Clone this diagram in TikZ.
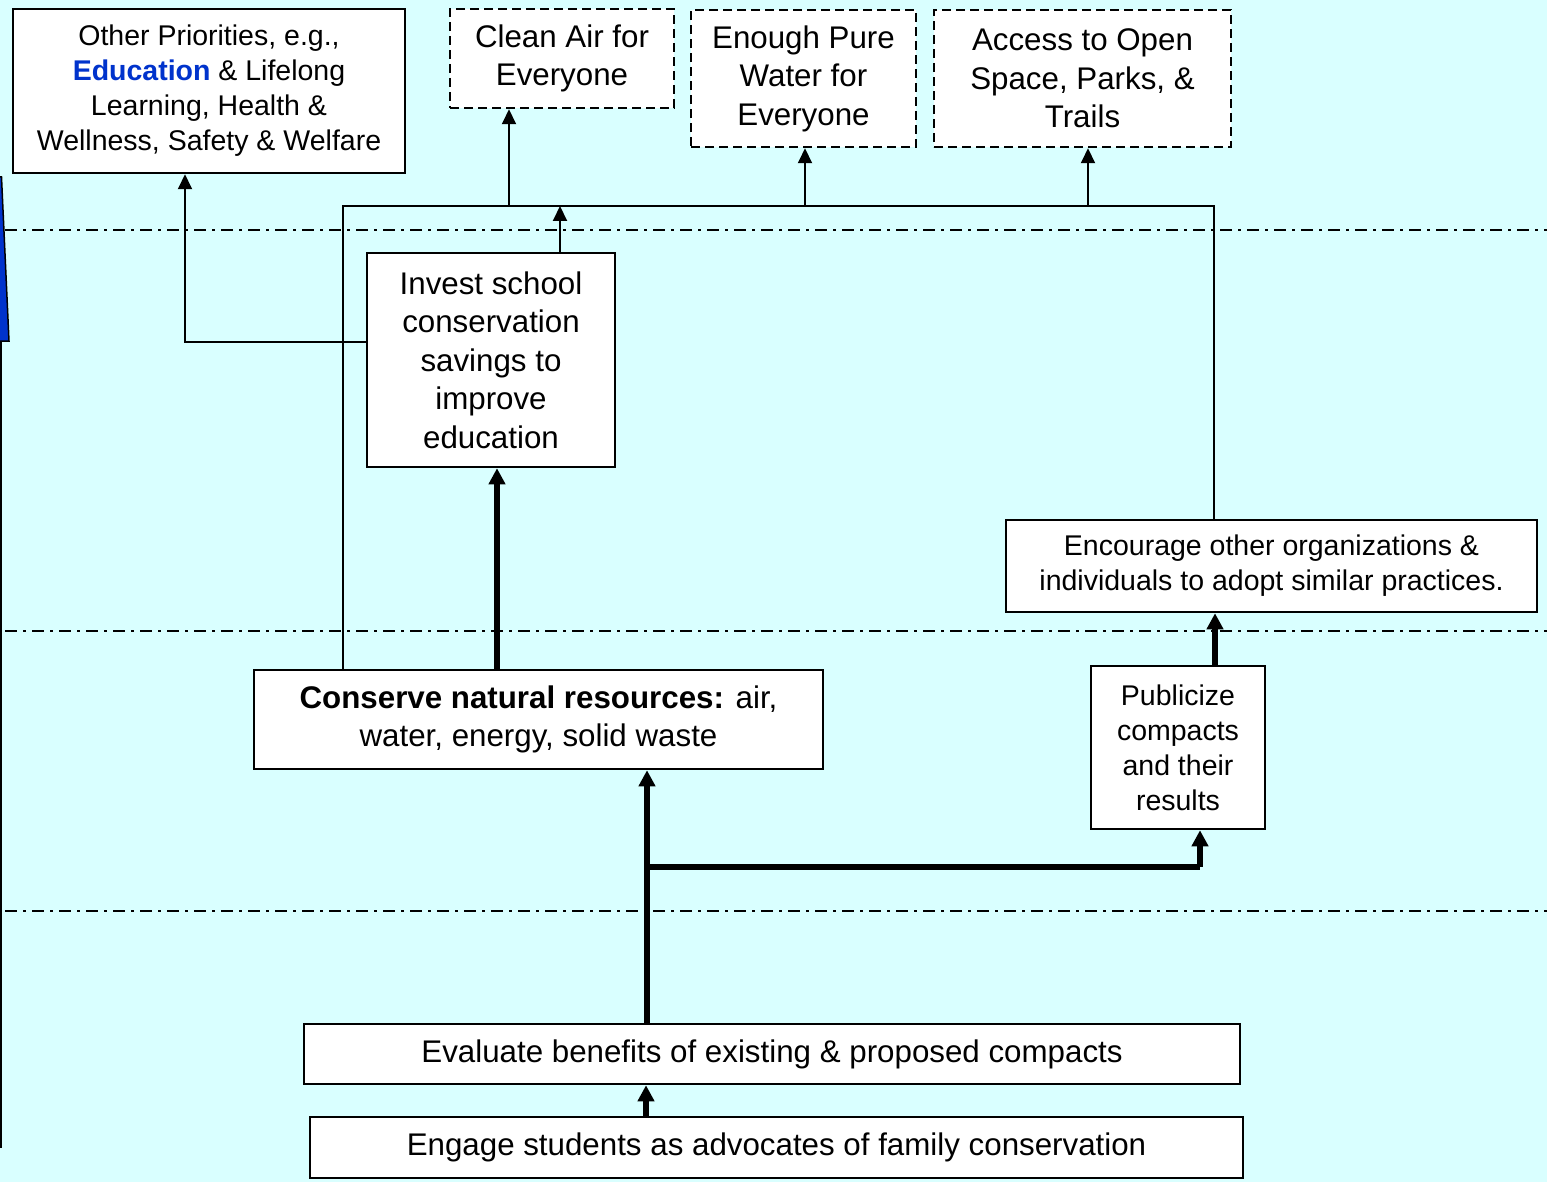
\documentclass[tikz,border=0pt]{standalone}
\usepackage{fontspec}
\setmainfont{Liberation Sans}
\usetikzlibrary{arrows.meta}
\definecolor{bg}{RGB}{217,255,255}
\definecolor{edublue}{RGB}{0,51,204}
\newcommand{\fsbig}{\fontsize{31.3}{38.5}\selectfont}
\newcommand{\fssmall}{\fontsize{28.5}{35}\selectfont}
\tikzset{
  box/.style={draw, line width=2.5pt, fill=white, inner sep=0pt, align=center, font=\fsbig},
  smallbox/.style={box, font=\fssmall},
  dbox/.style={box, dash pattern=on 9pt off 5pt},
  tline/.style={line width=2pt},
  tarrow/.style={line width=2pt, -{Triangle[width=14pt,length=15pt]}},
  Tline/.style={line width=5.5pt},
  Tarrow/.style={line width=5.5pt, -{Triangle[width=16pt,length=16pt]}},
  sepline/.style={line width=2pt, dash pattern=on 12pt off 6pt on 3pt off 6pt}
}
\begin{document}
\begin{tikzpicture}[x=1pt,y=-1pt]
\useasboundingbox (0,0) rectangle (1547,1182);
\fill[bg] (0,0) rectangle (1547,1182);

% separators
\draw[sepline] (5,230) -- (1547,230);
\draw[sepline] (5,631) -- (1547,631);
\draw[sepline] (5,911) -- (1547,911);

% left edge arrow fragment
\draw[line width=1.5pt, fill=edublue] (0,177) -- (1.5,177) -- (9,341) -- (0,341);
\draw[line width=2.5pt] (1,341) -- (1,1148);

% nodes
\node[smallbox, minimum width=392pt, minimum height=164pt] (other) at (209,91)
  {Other Priorities, e.g.,\\ \textcolor{edublue}{\textbf{Education}} \& Lifelong\\ Learning, Health \&\\ Wellness, Safety \& Welfare};
\node[dbox, minimum width=224pt, minimum height=99pt] (air) at (562,58.5)
  {Clean Air for\\ Everyone};
\node[dbox, minimum width=225pt, minimum height=137pt] (water) at (803.5,78.5)
  {Enough Pure\\ Water for\\ Everyone};
\node[dbox, minimum width=297pt, minimum height=137pt] (space) at (1082.5,78.5)
  {Access to Open\\ Space, Parks, \&\\ Trails};
\node[box, minimum width=248pt, minimum height=214pt] (invest) at (491,360)
  {Invest school\\ conservation\\ savings to\\ improve\\ education};
\node[smallbox, minimum width=531pt, minimum height=92pt] (encourage) at (1271.5,566)
  {Encourage other organizations \&\\ individuals to adopt similar practices.};
\node[box, minimum width=569pt, minimum height=99pt] (conserve) at (538.5,719.5)
  {\textbf{Conserve natural resources:} air,\\ water, energy, solid waste};
\node[smallbox, minimum width=174pt, minimum height=163pt] (publicize) at (1178,747.5)
  {Publicize\\ compacts\\ and their\\ results};
\node[box, minimum width=936pt, minimum height=60pt] (evaluate) at (772,1054)
  {Evaluate benefits of existing \& proposed compacts};
\node[box, minimum width=933pt, minimum height=61pt] (engage) at (776.5,1147.5)
  {Engage students as advocates of family conservation};

% thin bus
\coordinate (bl) at (343,206);
\coordinate (br) at (1214,206);
\draw[tline] (bl |- conserve.north) -- (bl) -- (br) -- (br |- encourage.north);
\coordinate (a1) at (509,206);
\coordinate (a2) at (805,206);
\coordinate (a3) at (1088,206);
\draw[tarrow] (a1) -- (a1 |- air.south);
\draw[tarrow] (a2) -- (a2 |- water.south);
\draw[tarrow] (a3) -- (a3 |- space.south);
\coordinate (i1) at (560,253);
\draw[tarrow] (i1 |- invest.north) -- (i1 |- bl);
\coordinate (o1) at (185,342);
\draw[tarrow] (invest.west |- o1) -- (o1) -- (o1 |- other.south);

% thick arrows
\coordinate (c1) at (497,0);
\draw[Tarrow] (c1 |- conserve.north) -- (c1 |- invest.south);
\coordinate (e1) at (647,867);
\draw[Tarrow] (e1 |- evaluate.north) -- (e1 |- conserve.south);
\coordinate (p1) at (1200,867);
\draw[Tline] (e1) -- (p1);
\draw[Tarrow] (p1) -- (p1 |- publicize.south);
\coordinate (u1) at (1215,0);
\draw[Tarrow] (u1 |- publicize.north) -- (u1 |- encourage.south);
\coordinate (g1) at (646,0);
\draw[Tarrow] (g1 |- engage.north) -- (g1 |- evaluate.south);
\end{tikzpicture}
\end{document}
